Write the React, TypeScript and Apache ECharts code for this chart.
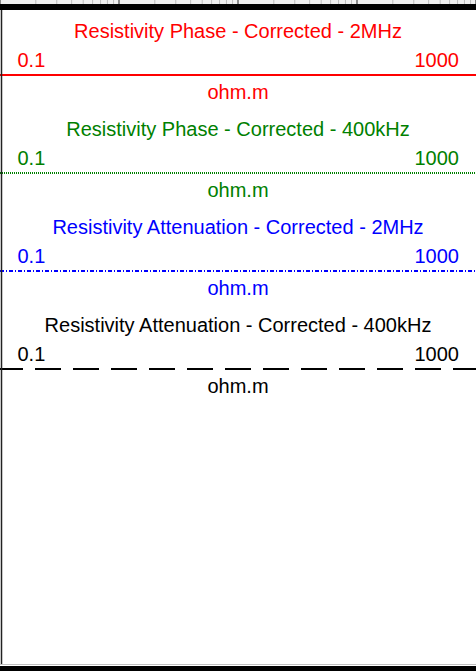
import React, { useEffect, useRef } from "react";
import * as echarts from "echarts";

// ---- data ----
const curveTitles = [
  "Resistivity Phase - Corrected - 2MHz",
  "Resistivity Phase - Corrected - 400kHz",
  "Resistivity Attenuation - Corrected - 2MHz",
  "Resistivity Attenuation - Corrected - 400kHz",
];
const curveColors = ["#ff0000", "#008000", "#0000ff", "#000000"];
const scaleMin = [0.1, 0.1, 0.1, 0.1];
const scaleMax = [1000, 1000, 1000, 1000];
const scaleMinLabels = ["0.1", "0.1", "0.1", "0.1"];
const scaleMaxLabels = ["1000", "1000", "1000", "1000"];
const curveUnits = ["ohm.m", "ohm.m", "ohm.m", "ohm.m"];
const gridMinorValues = [
  0.2, 0.3, 0.4, 0.5, 0.6, 0.7, 0.8, 0.9,
  2, 3, 4, 5, 6, 7, 8, 9,
  20, 30, 40, 50, 60, 70, 80, 90,
  200, 300, 400, 500, 600, 700, 800, 900,
];

const W = 476;
const H = 671;
const FONT = '"Liberation Sans", Arial, sans-serif';

export default function App() {
  const ref = useRef<HTMLDivElement>(null);
  useEffect(() => {
    if (!ref.current) return;
    const chart = echarts.init(ref.current, undefined, { renderer: "svg" });

    const step = 98;
    const lineY = (i: number) => 75 + step * i;
    const dashes: any[] = ["solid", [1, 1], [4, 2, 1, 2], [26, 12]];
    const dashOffsets = [0, 0, 0, 3];

    const grids: any[] = [
      { left: 0, right: 0, top: 0, height: 4, show: true, backgroundColor: "#f0f0f0", borderWidth: 0 },
    ];
    const xAxes: any[] = [
      {
        type: "log", gridIndex: 0, min: 0.1, max: 1000, logBase: 10,
        axisLine: { show: false }, axisTick: { show: false }, axisLabel: { show: false },
        splitLine: { show: true, lineStyle: { color: "#8a8a8a", width: 2 } },
      },
    ];
    const yAxes: any[] = [{ type: "value", gridIndex: 0, min: 0, max: 1, show: false }];
    const series: any[] = [
      {
        type: "custom",
        xAxisIndex: 0,
        yAxisIndex: 0,
        data: gridMinorValues.map((v) => [v, 0]),
        encode: { x: 0, y: 1 },
        renderItem: (params: any, api: any) => {
          const x = api.coord([api.value(0), 0])[0];
          const cs = params.coordSys;
          return {
            type: "line",
            shape: { x1: x, y1: cs.y, x2: x, y2: cs.y + cs.height },
            style: { stroke: "#bdbdbd", lineWidth: 1 },
          };
        },
        silent: true,
      },
    ];

    curveTitles.forEach((_, i) => {
      const gi = i + 1;
      grids.push({ left: 0, right: 0, top: lineY(i) - 5, height: 10 });
      xAxes.push({ type: "log", gridIndex: gi, min: scaleMin[i], max: scaleMax[i], show: false });
      yAxes.push({ type: "value", gridIndex: gi, min: -1, max: 1, show: false });
      series.push({
        type: "line",
        xAxisIndex: gi,
        yAxisIndex: gi,
        data: [[scaleMin[i], 0], [scaleMax[i], 0]],
        symbol: "none",
        silent: true,
        lineStyle: { color: curveColors[i], width: 2, type: dashes[i], dashOffset: dashOffsets[i] },
      });
    });

    const texts: any[] = [];
    curveTitles.forEach((t, i) => {
      const c = curveColors[i];
      texts.push({
        type: "text", x: W / 2, y: 31 + step * i,
        style: { text: t, fill: c, fontSize: 20, fontFamily: FONT, align: "center", verticalAlign: "middle" },
      });
      texts.push({
        type: "text", x: 17.5, y: 59.5 + step * i,
        style: { text: scaleMinLabels[i], fill: c, fontSize: 20, fontFamily: FONT, align: "left", verticalAlign: "middle" },
      });
      texts.push({
        type: "text", x: 459, y: 59.5 + step * i,
        style: { text: scaleMaxLabels[i], fill: c, fontSize: 20, fontFamily: FONT, align: "right", verticalAlign: "middle" },
      });
      texts.push({
        type: "text", x: W / 2, y: 92 + step * i,
        style: { text: curveUnits[i], fill: c, fontSize: 20, fontFamily: FONT, align: "center", verticalAlign: "middle" },
      });
    });

    chart.setOption({
      animation: false,
      backgroundColor: "#ffffff",
      grid: grids,
      xAxis: xAxes,
      yAxis: yAxes,
      series,
      graphic: [
        { type: "rect", shape: { x: 0, y: 4, width: W, height: 6 }, style: { fill: "#000000" }, z: 10 },
        { type: "line", shape: { x1: 1.5, y1: 10, x2: 1.5, y2: 665 }, style: { stroke: "#222222", lineWidth: 1.5 }, z: 10 },
        { type: "line", shape: { x1: 0, y1: 664.5, x2: W, y2: 664.5 }, style: { stroke: "#c0c0c0", lineWidth: 1 }, z: 10 },
        { type: "rect", shape: { x: 0, y: 666, width: W, height: 5 }, style: { fill: "#000000" }, z: 10 },
        ...texts,
      ],
    });
    return () => chart.dispose();
  }, []);
  return (
    <div
      ref={ref}
      style={{ position: "absolute", left: 0, top: 0, width: W, height: H }}
    />
  );
}
